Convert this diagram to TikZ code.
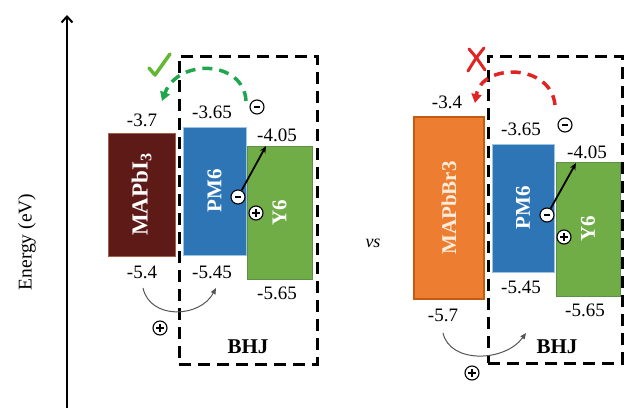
\documentclass[tikz,border=0pt]{standalone}
\usepackage{fontspec}
\setmainfont{Liberation Serif}
\usetikzlibrary{arrows.meta}
\definecolor{maroonc}{HTML}{5E1A17}
\definecolor{maroonb}{HTML}{A0604A}
\definecolor{pmblue}{HTML}{2E75B6}
\definecolor{pmbord}{HTML}{9DC3E6}
\definecolor{ygreen}{HTML}{70AD47}
\definecolor{ybord}{HTML}{5E8F48}
\definecolor{orangec}{HTML}{ED7D31}
\definecolor{orangeb}{HTML}{C55A11}
\definecolor{dgreen}{HTML}{1FA64F}
\definecolor{checkg}{HTML}{62B832}
\definecolor{dred}{HTML}{E02424}
\definecolor{arcgray}{HTML}{555555}
\begin{document}
\begin{tikzpicture}[x=1pt,y=-1pt,
  band/.style={draw, line width=1pt, text=white, font=\bfseries\fontsize{21}{24}\selectfont, rotate=90, inner sep=0pt},
  lvl/.style={font=\fontsize{19}{22}\selectfont, inner sep=0pt},
  bhjbox/.style={draw, line width=3pt, dash pattern=on 12pt off 7pt},
  bhjlab/.style={font=\bfseries\fontsize{21}{24}\selectfont, inner sep=0pt},
  sgnbase/.style={circle, draw, line width=1.1pt, fill=white, minimum size=14pt, inner sep=0pt},
  sgnplus/.style={sgnbase, path picture={
    \draw[line width=1.6pt] ([xshift=-3.8pt]path picture bounding box.center) -- ([xshift=3.8pt]path picture bounding box.center);
    \draw[line width=1.6pt] ([yshift=-3.8pt]path picture bounding box.center) -- ([yshift=3.8pt]path picture bounding box.center);}},
  sgnminus/.style={sgnbase, path picture={
    \draw[line width=1.6pt] ([xshift=-3pt]path picture bounding box.center) -- ([xshift=3pt]path picture bounding box.center);}},
  transfer/.style={line width=3.5pt, dash pattern=on 10pt off 7pt, -{Triangle[length=9pt,width=10pt]}},
  eharrow/.style={line width=1.8pt, -{Stealth[length=7pt,width=6pt]}},
  holearc/.style={arcgray, line width=1pt, -{Triangle[length=6pt,width=5pt]}}
]
\useasboundingbox (0,0) rectangle (625,410);

% energy axis
\coordinate (axb) at (67,408);
\coordinate (axt) at (67,15);
\draw[line width=2pt, -{Straight Barb[length=6pt,width=11pt,line width=2pt]}] (axb) -- (axt);
\node[rotate=90, font=\fontsize{19.5}{22}\selectfont] (elab) at (27,242) {Energy (eV)};

% ---------------- left panel ----------------
\node[band, fill=maroonc, draw=maroonb, minimum width=123pt, minimum height=67pt,
      font=\bfseries\fontsize{23}{26}\selectfont] (mapi) at (141.5,194.5) {MAPbI\textsubscript{3}};
\node[band, fill=pmblue, draw=pmbord, minimum width=128pt, minimum height=63pt] (lpm) at (214.5,191) {PM6};
\node[band, fill=ygreen, draw=ybord, minimum width=133pt, minimum height=65pt] (ly) at (279.5,212.5) {Y6};
\node[bhjbox, minimum width=138pt, minimum height=308pt, inner sep=0pt] (lbhj) at (248,210) {};

\node[lvl] (l1) at (142,120) {-3.7};
\node[lvl] (l2) at (212,112) {-3.65};
\node[lvl] (l3) at (277,135) {-4.05};
\node[lvl] (l4) at (142,272) {-5.4};
\node[lvl] (l5) at (212,272) {-5.45};
\node[lvl] (l6) at (277,293) {-5.65};
\node[bhjlab] (lb) at (248,347) {BHJ};

\node[sgnminus] (lm1) at (257,107) {};
\node[sgnminus] (lm2) at (238,197) {};
\node[sgnplus] (lp1) at (256,213) {};
\node[sgnplus] (lp2) at (160,328) {};

\coordinate (lytip) at (266,146);
\draw[eharrow] (lm2) -- (lytip);

\coordinate (lgs) at (246,101);
\coordinate (lge) at (162,101);
\draw[dgreen, transfer] (lgs) .. controls (244,60) and (178,58) .. (lge);

\coordinate (lhs) at (143,288);
\coordinate (lhe) at (216,288);
\draw[holearc] (lhs) .. controls (150,320) and (200,318) .. (lhe);

% check mark
\coordinate (ck1) at (149,68);
\coordinate (ck2) at (155,75);
\coordinate (ck3) at (170,54);
\draw[checkg, line width=3.5pt, line cap=round, line join=round] (ck1) -- (ck2) -- (ck3);

\node[font=\itshape\fontsize{18}{20}\selectfont] (vs) at (373,243) {vs};

% ---------------- right panel ----------------
\node[band, fill=orangec, draw=orangeb, line width=2.5pt, minimum width=182pt, minimum height=70pt,
      text={white!85!orange}] (mapbr) at (449,208) {MAPbBr3};
\node[band, fill=pmblue, draw=pmbord, minimum width=128pt, minimum height=62pt] (rpm) at (523,208) {PM6};
\node[band, fill=ygreen, draw=ybord, minimum width=134pt, minimum height=64pt] (ry) at (588,229) {Y6};
\node[bhjbox, minimum width=134pt, minimum height=307pt, inner sep=0pt] (rbhj) at (555,209.5) {};

\node[lvl] (r1) at (447,102) {-3.4};
\node[lvl] (r2) at (521,129) {-3.65};
\node[lvl] (r3) at (587,152) {-4.05};
\node[lvl] (r4) at (521,287) {-5.45};
\node[lvl] (r5) at (443,315) {-5.7};
\node[lvl] (r6) at (585,310) {-5.65};
\node[bhjlab] (rb) at (557,347) {BHJ};

\node[sgnminus] (rm1) at (565,125) {};
\node[sgnminus] (rm2) at (547,215) {};
\node[sgnplus] (rp1) at (564,237) {};
\node[sgnplus] (rp2) at (472,373) {};

\coordinate (rytip) at (576,163);
\draw[eharrow] (rm2) -- (rytip);

\coordinate (rrs) at (555,105);
\coordinate (rre) at (475,103);
\draw[dred, transfer] (rrs) .. controls (551,63) and (482,63) .. (rre);

\coordinate (rhs) at (443,333);
\coordinate (rhe) at (526,333);
\draw[holearc] (rhs) .. controls (450,364) and (505,362) .. (rhe);

% cross mark
\coordinate (x1) at (469,49);
\coordinate (x2) at (485,70);
\coordinate (x3) at (484,48);
\coordinate (x4) at (468,71);
\draw[dred, line width=3pt, line cap=round] (x1) .. controls (476,57) .. (x2);
\draw[dred, line width=3pt, line cap=round] (x3) .. controls (476,58) .. (x4);
\end{tikzpicture}
\end{document}
